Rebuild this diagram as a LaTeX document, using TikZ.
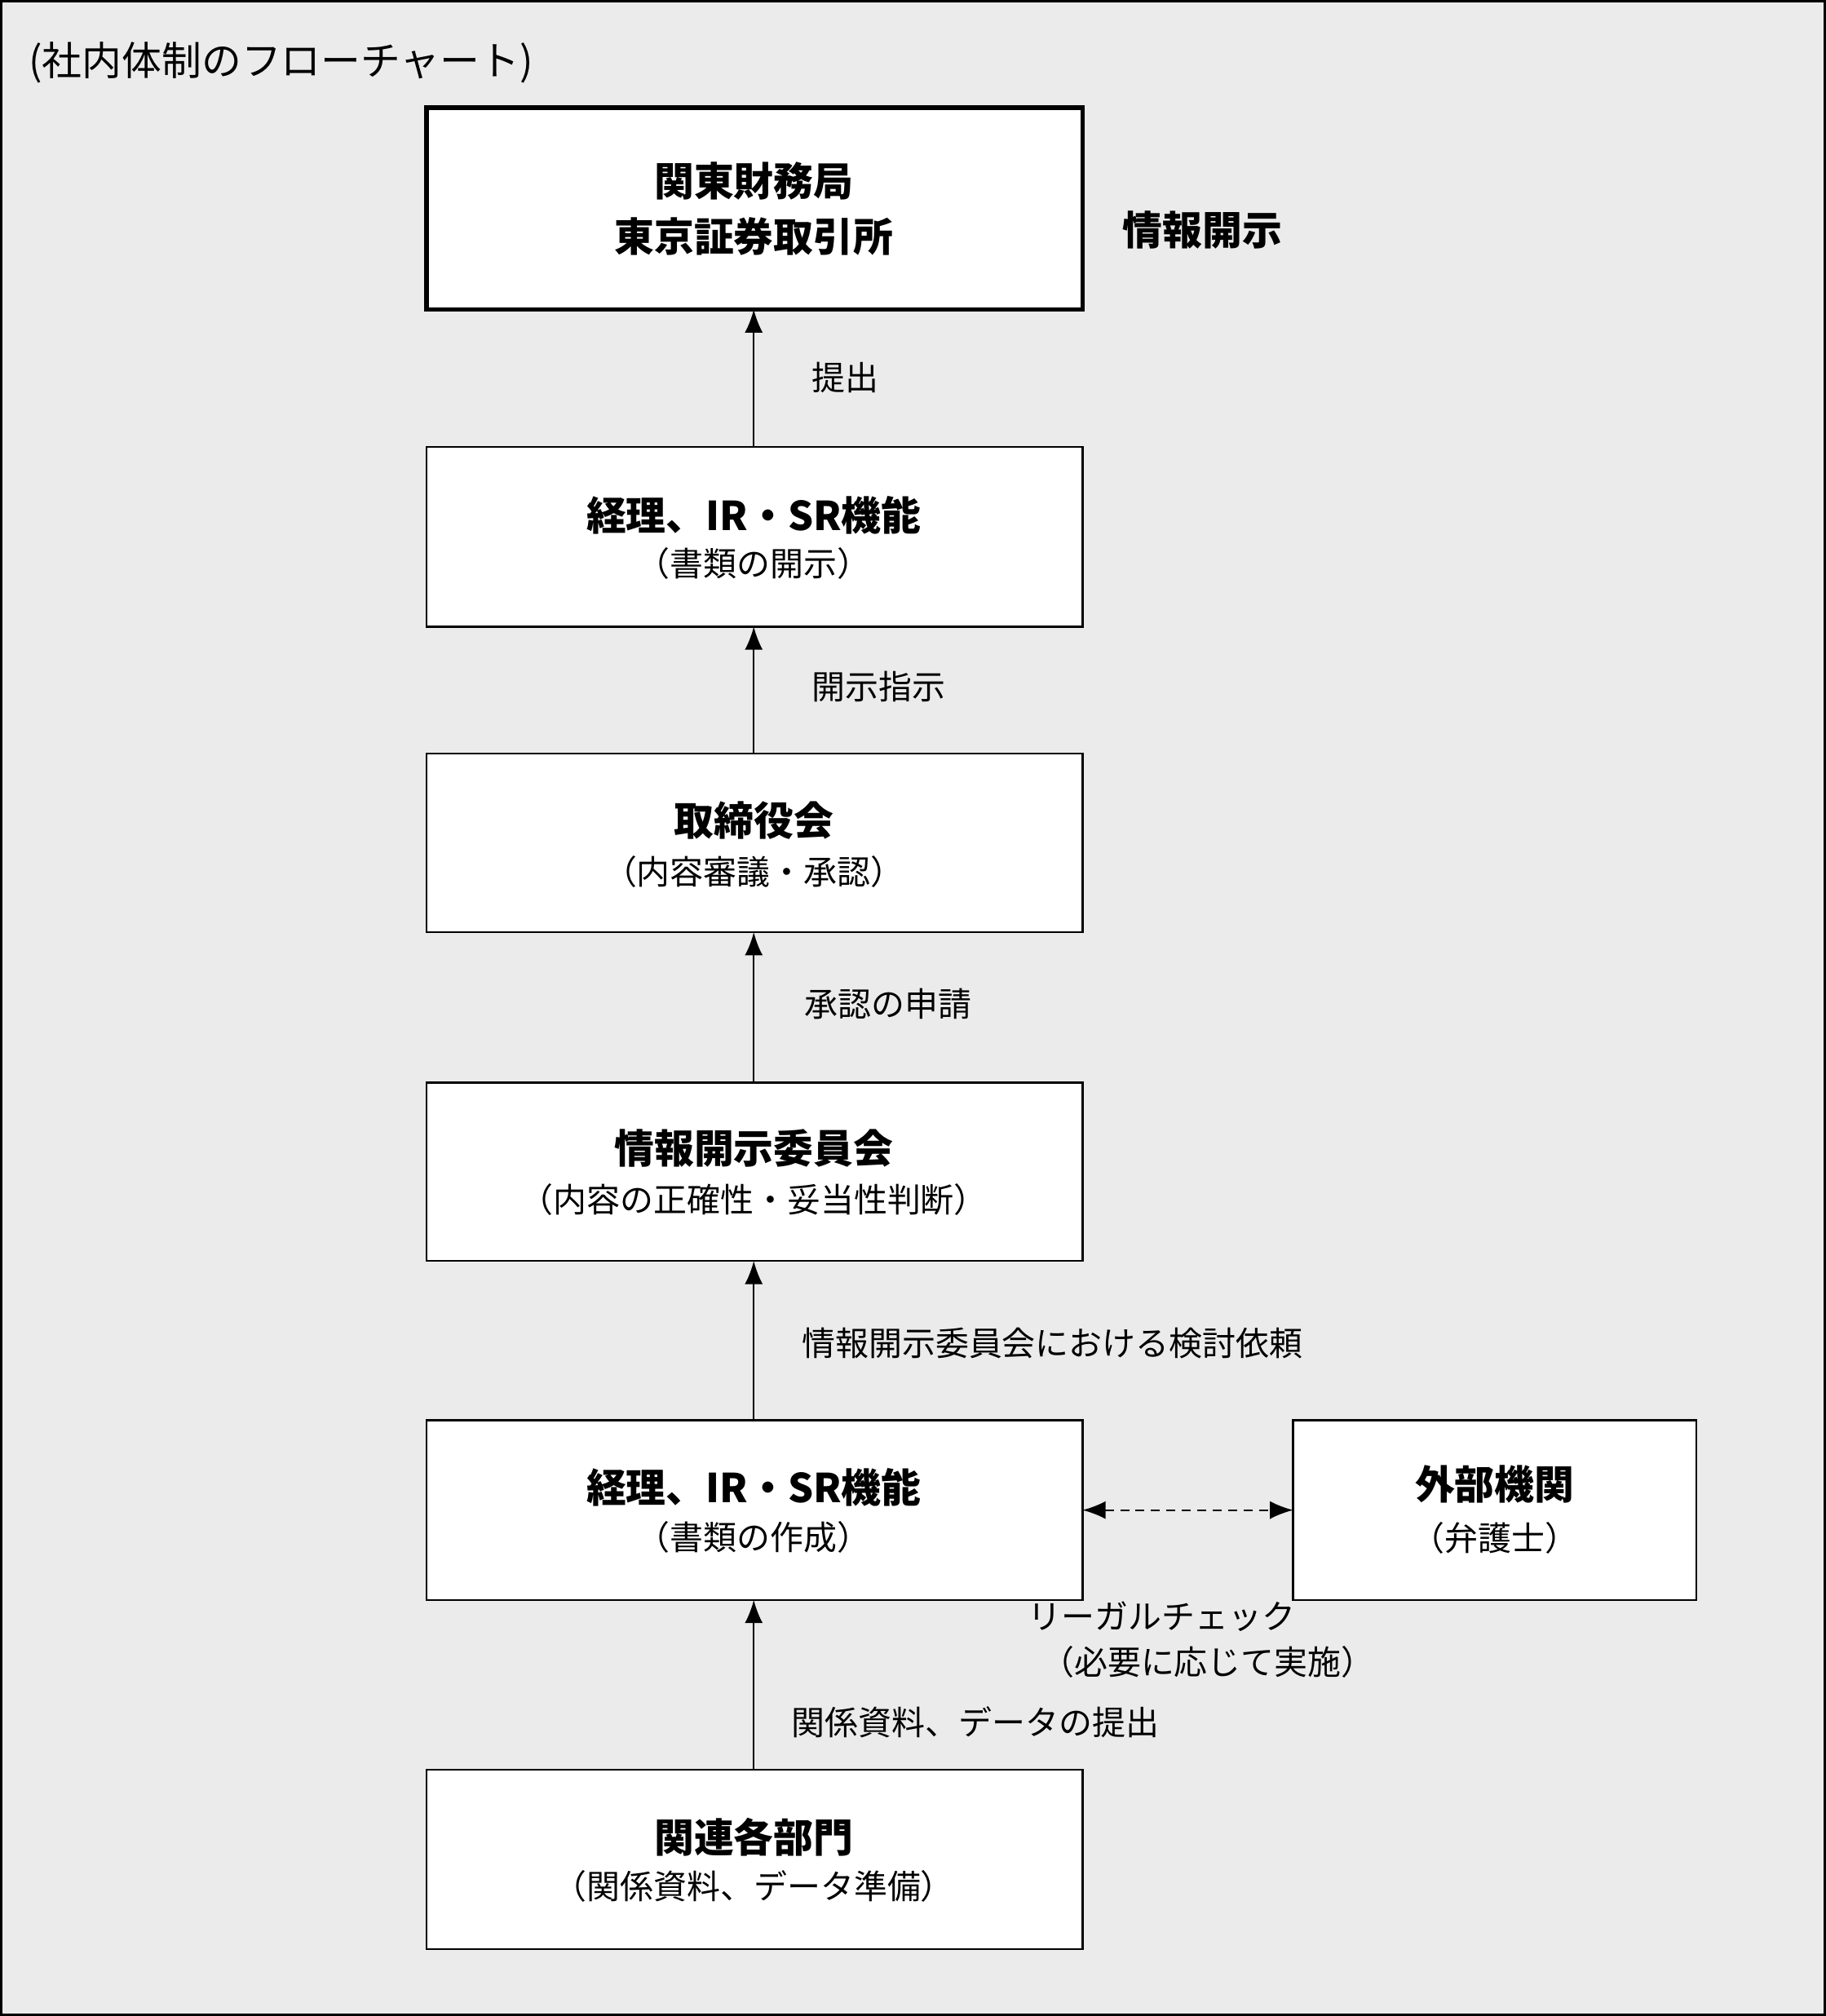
\documentclass[tikz,border=0pt]{standalone}
\usepackage{fontspec}
\setmainfont{Noto Sans CJK JP}
\usetikzlibrary{arrows.meta}
\definecolor{bggray}{HTML}{EBEBEB}
\begin{document}
\begin{tikzpicture}[x=1pt,y=-1pt,
    box/.style={draw,fill=white,line width=1.5pt},
    head/.style={font=\fontsize{31}{36}\selectfont\bfseries},
    sub/.style={font=\fontsize{26}{32}\selectfont},
    lbl/.style={font=\fontsize{26}{32}\selectfont,anchor=west},
    arr/.style={-{Latex[length=18pt,width=14pt]},line width=1.3pt},
    darr/.style={{Latex[length=18pt,width=14pt]}-{Latex[length=18pt,width=14pt]},line width=1.3pt,dash pattern=on 7pt off 5pt}]
  \draw[fill=bggray,line width=2pt] (0,0) rectangle (1420,1568);
  \useasboundingbox (0,0) rectangle (1420,1568);
  \node[font=\fontsize{31}{36}\selectfont,anchor=west] (title) at (18,48) {(社内体制のフローチャート)};
  % boxes
  \draw[box,line width=3.5pt] (331,83) rectangle (842,240);
  \coordinate (b1) at (586,240);
  \node[head] (t1) at (586,140) {関東財務局};
  \node[head] (t1b) at (586,183) {東京証券取引所};
  \node[head,anchor=west] (disc) at (870,178) {情報開示};
  \draw[box] (331,347) rectangle (842,487);
  \node[head] (t2) at (586,400) {経理、IR・SR機能};
  \node[sub] (s2) at (586,438) {（書類の開示）};
  \draw[box] (331,586) rectangle (842,725);
  \node[head] (t3) at (586,638) {取締役会};
  \node[sub] (s3) at (586,678) {（内容審議・承認）};
  \draw[box] (331,842) rectangle (842,981);
  \node[head] (t4) at (586,893) {情報開示委員会};
  \node[sub] (s4) at (586,933) {（内容の正確性・妥当性判断）};
  \draw[box] (331,1105) rectangle (842,1245);
  \node[head] (t5) at (586,1157) {経理、IR・SR機能};
  \node[sub] (s5) at (586,1196) {（書類の作成）};
  \draw[box] (331,1377) rectangle (842,1517);
  \node[head] (t6) at (586,1430) {関連各部門};
  \node[sub] (s6) at (586,1468) {（関係資料、データ準備）};
  \draw[box] (1006,1105) rectangle (1320,1245);
  \node[head] (t7) at (1163,1155) {外部機関};
  \node[sub] (s7) at (1163,1197) {（弁護士）};
  % connectors
  \coordinate (b2t) at (586,347); \coordinate (b2b) at (586,487);
  \coordinate (b3t) at (586,586); \coordinate (b3b) at (586,725);
  \coordinate (b4t) at (586,842); \coordinate (b4b) at (586,981);
  \coordinate (b5t) at (586,1105); \coordinate (b5b) at (586,1245);
  \coordinate (b6t) at (586,1377);
  \coordinate (b5r) at (842,1175); \coordinate (b7l) at (1006,1175);
  \draw[arr] (b2t) -- (b1);
  \draw[arr] (b3t) -- (b2b);
  \draw[arr] (b4t) -- (b3b);
  \draw[arr] (b5t) -- (b4b);
  \draw[arr] (b6t) -- (b5b);
  \draw[darr] (b5r) -- (b7l);
  % labels
  \node[lbl] (l1) at (628,293) {提出};
  \node[lbl] (l2) at (628,534) {開示指示};
  \node[lbl] (l3) at (622,781) {承認の申請};
  \node[lbl] (l4) at (620,1045) {情報開示委員会における検討依頼};
  \node[lbl] (l5) at (612,1340) {関係資料、データの提出};
  \node[lbl] (l6) at (796,1258) {リーガルチェック};
  \node[lbl] (l7) at (806,1293) {（必要に応じて実施）};
\end{tikzpicture}
\end{document}
